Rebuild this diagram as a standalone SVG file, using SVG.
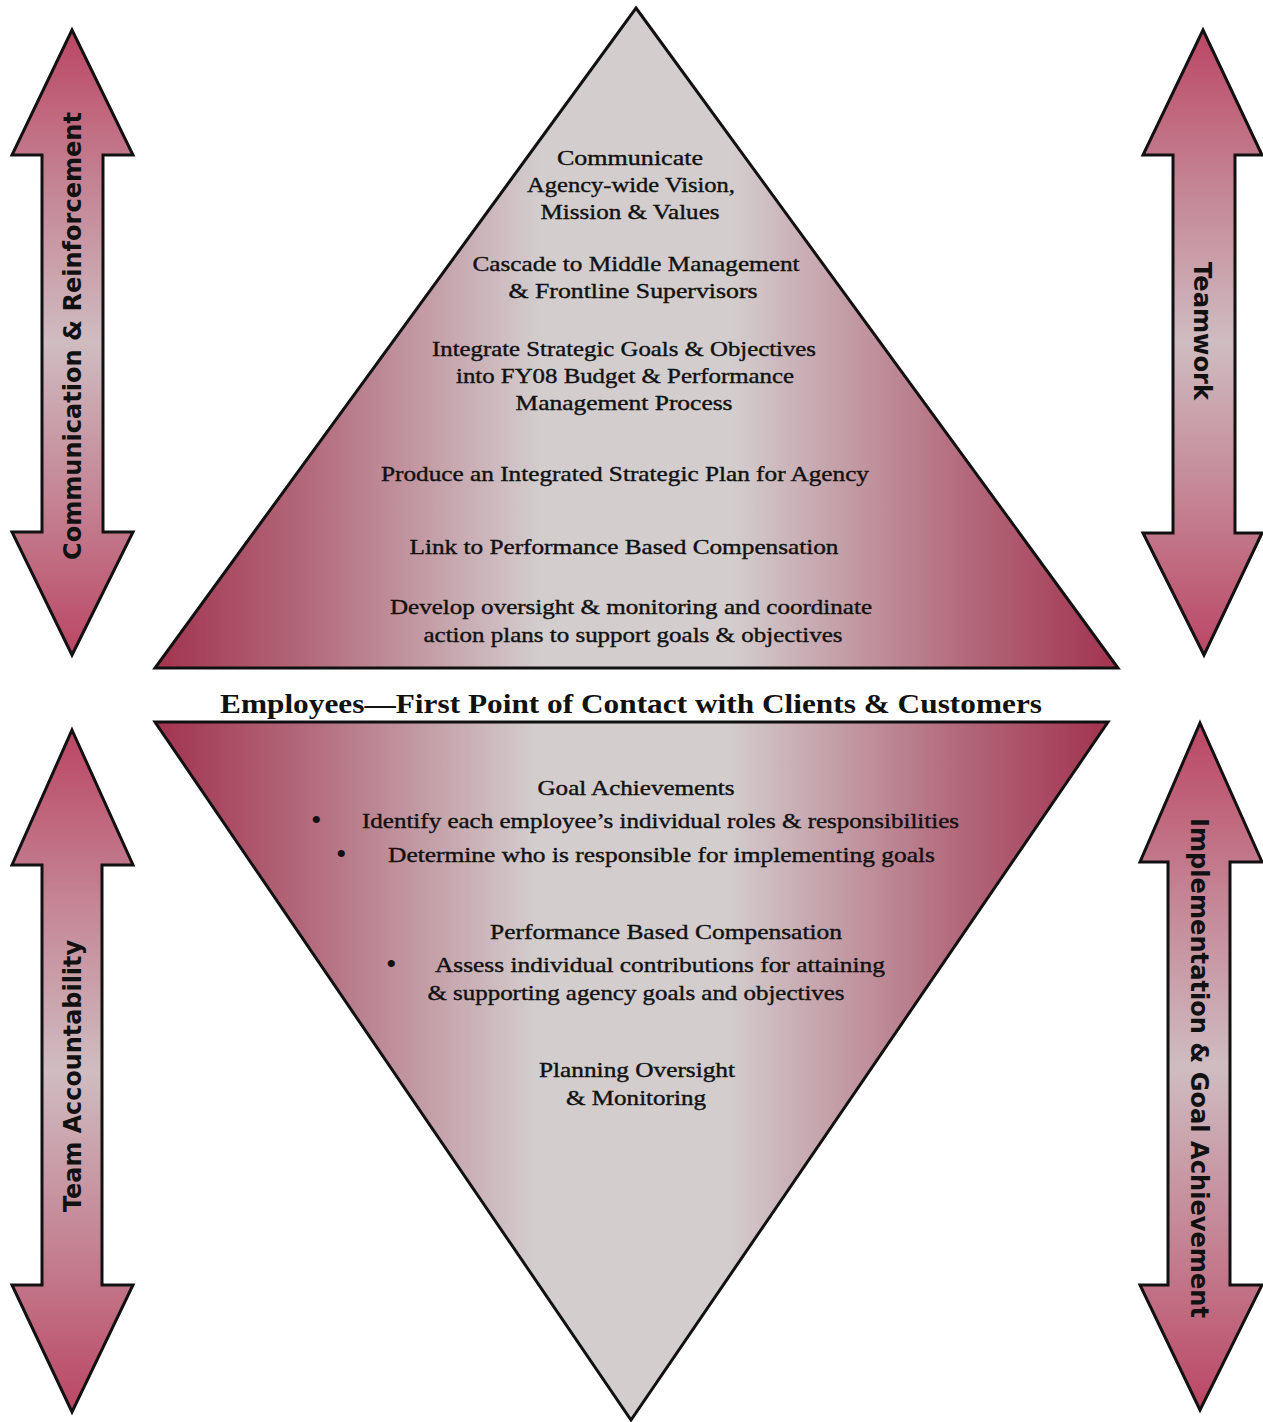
<svg xmlns="http://www.w3.org/2000/svg" width="1263" height="1422" viewBox="0 0 1263 1422">
<defs>
<linearGradient id="triGrad" x1="0" y1="0" x2="1" y2="0">
<stop offset="0" stop-color="#a2334f"/>
<stop offset="0.16" stop-color="#b36a7c"/>
<stop offset="0.4" stop-color="#d3cdce"/>
<stop offset="0.6" stop-color="#d3cdce"/>
<stop offset="0.84" stop-color="#b36a7c"/>
<stop offset="1" stop-color="#a2334f"/>
</linearGradient>
<linearGradient id="arrGrad" x1="0" y1="0" x2="0" y2="1">
<stop offset="0" stop-color="#bb4664"/>
<stop offset="0.25" stop-color="#c48494"/>
<stop offset="0.5" stop-color="#cfbcc1"/>
<stop offset="0.75" stop-color="#c48494"/>
<stop offset="1" stop-color="#bb4664"/>
</linearGradient>
<style>
.tri{fill:url(#triGrad);stroke:#111;stroke-width:3;stroke-linejoin:miter}
.arr{fill:url(#arrGrad);stroke:#111;stroke-width:3;stroke-linejoin:miter}
.t{font-family:"Liberation Serif","DejaVu Serif",serif;font-size:22px;fill:#111;stroke:#111;stroke-width:0.4;text-anchor:middle}
.tl{font-family:"Liberation Serif","DejaVu Serif",serif;font-size:22px;fill:#111;stroke:#111;stroke-width:0.4}
.b{font-family:"Liberation Serif","DejaVu Serif",serif;font-size:30px;fill:#111}
.h{font-family:"Liberation Serif","DejaVu Serif",serif;font-size:28px;font-weight:bold;fill:#111;text-anchor:middle}
.a{font-family:"DejaVu Sans","Liberation Sans",sans-serif;font-size:25px;font-weight:bold;fill:#111;text-anchor:middle}
</style>
</defs>

<g id="top-triangle">
<polygon class="tri" points="636,8 1118,668 155,668"/>
<text class="t" x="630" y="165" textLength="146" lengthAdjust="spacingAndGlyphs">Communicate</text>
<text class="t" x="631" y="192" textLength="208" lengthAdjust="spacingAndGlyphs">Agency-wide Vision,</text>
<text class="t" x="630" y="219" textLength="179" lengthAdjust="spacingAndGlyphs">Mission &amp; Values</text>
<text class="t" x="636" y="271" textLength="327" lengthAdjust="spacingAndGlyphs">Cascade to Middle Management</text>
<text class="t" x="633" y="298" textLength="249" lengthAdjust="spacingAndGlyphs">&amp; Frontline Supervisors</text>
<text class="t" x="624" y="356" textLength="384" lengthAdjust="spacingAndGlyphs">Integrate Strategic Goals &amp; Objectives</text>
<text class="t" x="625" y="383" textLength="338" lengthAdjust="spacingAndGlyphs">into FY08 Budget &amp; Performance</text>
<text class="t" x="624" y="410" textLength="217" lengthAdjust="spacingAndGlyphs">Management Process</text>
<text class="t" x="625" y="481" textLength="488" lengthAdjust="spacingAndGlyphs">Produce an Integrated Strategic Plan for Agency</text>
<text class="t" x="624" y="554" textLength="429" lengthAdjust="spacingAndGlyphs">Link to Performance Based Compensation</text>
<text class="t" x="631" y="614" textLength="482" lengthAdjust="spacingAndGlyphs">Develop oversight &amp; monitoring and coordinate</text>
<text class="t" x="633" y="642" textLength="419" lengthAdjust="spacingAndGlyphs">action plans to support goals &amp; objectives</text>
</g>

<g id="middle-label">
<text class="h" x="631" y="713" textLength="822" lengthAdjust="spacingAndGlyphs">Employees—First Point of Contact with Clients &amp; Customers</text>
</g>

<g id="bottom-triangle">
<polygon class="tri" points="155,722 1108,722 631,1420"/>
<text class="t" x="636" y="795" textLength="197" lengthAdjust="spacingAndGlyphs">Goal Achievements</text>
<text class="b" x="311" y="830">•</text>
<text class="tl" x="362" y="828" textLength="597" lengthAdjust="spacingAndGlyphs">Identify each employee’s individual roles &amp; responsibilities</text>
<text class="b" x="336" y="864">•</text>
<text class="tl" x="388" y="862" textLength="547" lengthAdjust="spacingAndGlyphs">Determine who is responsible for implementing goals</text>
<text class="t" x="666" y="939" textLength="352" lengthAdjust="spacingAndGlyphs">Performance Based Compensation</text>
<text class="b" x="386" y="974">•</text>
<text class="tl" x="435" y="972" textLength="450" lengthAdjust="spacingAndGlyphs">Assess individual contributions for attaining</text>
<text class="t" x="636" y="1000" textLength="417" lengthAdjust="spacingAndGlyphs">&amp; supporting agency goals and objectives</text>
<text class="t" x="637" y="1077" textLength="196" lengthAdjust="spacingAndGlyphs">Planning Oversight</text>
<text class="t" x="636" y="1105" textLength="140" lengthAdjust="spacingAndGlyphs">&amp; Monitoring</text>
</g>

<g id="arrow-communication">
<polygon class="arr" points="72,30 133,155 103,155 103,532 133,532 72,655 12,532 42,532 42,155 12,155"/>
<text class="a" transform="translate(81,336) rotate(-90)" textLength="448" lengthAdjust="spacingAndGlyphs">Communication &amp; Reinforcement</text>
</g>

<g id="arrow-teamwork">
<polygon class="arr" points="1203,30 1262,155 1235,155 1235,533 1262,533 1204,655 1143,533 1173,533 1173,155 1143,155"/>
<text class="a" transform="translate(1194,331) rotate(90)" textLength="138" lengthAdjust="spacingAndGlyphs">Teamwork</text>
</g>

<g id="arrow-accountability">
<polygon class="arr" points="72,730 133,865 102,865 102,1285 133,1285 72,1412 12,1285 42,1285 42,865 12,865"/>
<text class="a" transform="translate(81,1076) rotate(-90)" textLength="272" lengthAdjust="spacingAndGlyphs">Team Accountability</text>
</g>

<g id="arrow-implementation">
<polygon class="arr" points="1200,723 1262,862 1230,862 1230,1285 1262,1285 1200,1410 1140,1285 1168,1285 1168,862 1140,862"/>
<text class="a" transform="translate(1191,1068) rotate(90)" textLength="500" lengthAdjust="spacingAndGlyphs">Implementation &amp; Goal Achievement</text>
</g>

<g id="connectors"></g>
</svg>
